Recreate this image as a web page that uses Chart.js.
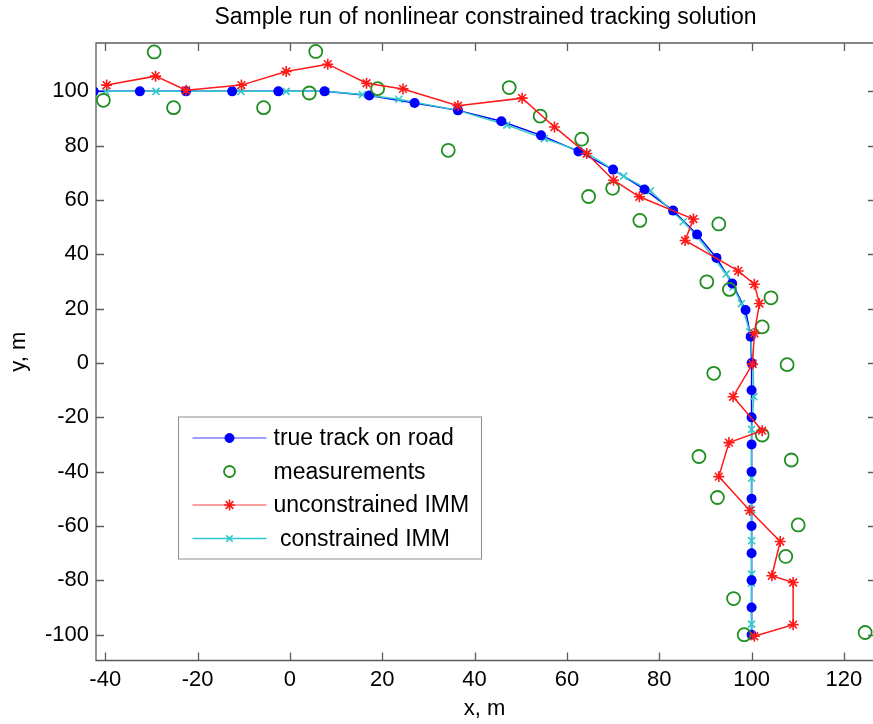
<!DOCTYPE html>
<html>
<head>
<meta charset="utf-8">
<title>Sample run of nonlinear constrained tracking solution</title>
<script src="https://cdn.jsdelivr.net/npm/chart.js@4.4.1/dist/chart.umd.min.js"></script>
<style>
  html, body { margin: 0; padding: 0; background: #fff; }
  canvas { display: block; }
</style>
</head>
<body>
<canvas id="myChart" width="873" height="724"></canvas>
<script>
// Data

const trueX = [-42.5, -32.5, -22.5, -12.5, -2.5, 7.5, 17.2, 27.0, 36.4, 45.8, 54.4, 62.5, 70.0, 76.8, 83.0, 88.2,
  92.4, 95.8, 98.7, 99.8, 100, 100, 100, 100, 100, 100, 100, 100, 100, 100, 100];
const trueY = [100, 100, 100, 100, 100, 100, 98.5, 95.7, 93.0, 89.0, 83.8, 77.9, 71.2, 63.9, 56.1, 47.3,
  38.7, 29.3, 19.5, 9.7, 0, -10, -20, -30, -40, -50, -60, -70, -80, -90, -100];

const measX = [-40.4, -29.4, -25.2, -5.7, 5.6, 4.2, 19.0, 47.5, 54.2, 34.3, 63.2, 69.9, 64.7, 75.8, 92.9,
  90.3, 95.2, 104.2, 102.3, 107.7, 91.8, 102.3, 88.6, 108.6, 92.6, 110.1, 107.4, 96.1, 98.4, 124.6];
const measY = [96.7, 114.5, 94.0, 94.0, 114.7, 99.4, 101.0, 101.4, 90.9, 78.3, 82.4, 64.3, 61.3, 52.5, 51.2,
  29.9, 27.1, 24.0, 13.3, -0.6, -3.8, -26.5, -34.4, -35.7, -49.5, -59.6, -71.2, -86.7, -100, -99.2];

const uncX = [-39.7, -29.1, -22.5, -10.5, -0.8, 8.2, 16.6, 24.5, 36.4, 50.3, 57.3, 64.3, 70.1, 75.7, 87.4, 85.6,
  97.1, 100.6, 101.7, 100.6, 100.2, 96.0, 102.3, 95.1, 92.9, 99.6, 106.2, 104.4, 109.0, 109.0, 100.6];
const uncY = [102.3, 105.6, 100.4, 102.3, 107.3, 110.0, 103.0, 100.9, 94.7, 97.5, 86.9, 77.1, 67.3, 61.2, 53.0, 45.1,
  33.9, 29.0, 21.9, 10.9, -0.4, -12.4, -24.9, -29.3, -41.8, -54.3, -65.7, -78.3, -80.8, -96.3, -100.6];

const conX = [-39.9, -29.0, -22.5, -10.6, -0.8, 7.8, 15.7, 23.6, 36.3, 47.0, 55.1, 64.5, 72.3, 78.1, 85.2, 88.0,
  94.5, 96.0, 97.8, 99.6, 100.3, 100.5, 100, 100, 100, 100, 100, 100, 100, 100, 100];
const conY = [100, 100, 100, 100, 100, 100, 98.8, 97.1, 93.0, 87.6, 82.6, 77.1, 68.8, 63.4, 52.0, 47.0,
  32.8, 28.0, 21.9, 11.5, 0, -12.4, -24.4, -30, -42.4, -54, -65.4, -77.7, -81, -96.1, -100.5];

const xTicks = [-40, -20, 0, 20, 40, 60, 80, 100, 120];
const yTicks = [-100, -80, -60, -40, -20, 0, 20, 40, 60, 80, 100];

const seriesNames = ['true track on road', 'measurements', 'unconstrained IMM', ' constrained IMM'];

const FONT = "'Liberation Sans', Arial, Helvetica, sans-serif";
const BLUE = '#0000ff';
const GREEN = '#1f8f1f';
const RED = '#ff1a1a';
const CYAN = '#33c9c9';

const toPoints = (xs, ys) => xs.map((x, i) => ({ x: x, y: ys[i] }));

// Title, box and inward ticks

const frame = {
  id: 'frame',
  beforeDatasetsDraw(chart) {
    const { ctx, chartArea: a, scales } = chart;
    ctx.save();
    ctx.strokeStyle = '#5c5c5c';
    ctx.lineWidth = 1.3;
    ctx.beginPath();
    ctx.moveTo(a.right + 5, a.top);
    ctx.lineTo(a.left, a.top);
    ctx.lineTo(a.left, a.bottom);
    ctx.lineTo(a.right + 5, a.bottom);
    xTicks.forEach(v => {
      const px = Math.round(scales.x.getPixelForValue(v)) + 0.5;
      ctx.moveTo(px, a.bottom);
      ctx.lineTo(px, a.bottom - 8);
      ctx.moveTo(px, a.top);
      ctx.lineTo(px, a.top + 8);
    });
    yTicks.forEach(v => {
      const py = Math.round(scales.y.getPixelForValue(v)) + 0.5;
      ctx.moveTo(a.left, py);
      ctx.lineTo(a.left + 8, py);
      ctx.moveTo(a.right, py);
      ctx.lineTo(a.right - 5, py);
    });
    ctx.stroke();
    ctx.restore();
  },
  afterDraw(chart) {
    const { ctx, chartArea: a } = chart;
    ctx.save();
    ctx.fillStyle = '#000';
    ctx.font = '23px ' + FONT;
    ctx.textAlign = 'center';
    ctx.textBaseline = 'alphabetic';
    ctx.fillText('Sample run of nonlinear constrained tracking solution', a.left + 389.5, 24);
    ctx.restore();
  }
};

// Legend box inside the axes

const legendStyles = [
  { line: '#7f7fff', point: { pointStyle: 'circle', radius: 4.5, borderWidth: 1 }, fill: BLUE, stroke: BLUE },
  { line: null, point: { pointStyle: 'circle', radius: 5.5, borderWidth: 1.8 }, fill: 'rgba(0,0,0,0)', stroke: GREEN },
  { line: '#ff8080', point: { pointStyle: 'star', radius: 5.5, borderWidth: 1.6 }, fill: RED, stroke: RED },
  { line: CYAN, point: { pointStyle: 'crossRot', radius: 4.5, borderWidth: 1.6 }, fill: CYAN, stroke: CYAN }
];

const legendBox = {
  id: 'legendBox',
  afterDraw(chart) {
    const { ctx, chartArea: a } = chart;
    const left = a.left + 82.5;
    const top = a.top + 374;
    ctx.save();
    ctx.fillStyle = '#fff';
    ctx.fillRect(left, top, 303, 142);
    ctx.strokeStyle = '#8c8c8c';
    ctx.lineWidth = 1;
    ctx.strokeRect(left, top, 303, 142);
    seriesNames.forEach((name, i) => {
      const st = legendStyles[i];
      const y = top + 21 + i * 33.5;
      if (st.line) {
        ctx.strokeStyle = st.line;
        ctx.lineWidth = 1.5;
        ctx.beginPath();
        ctx.moveTo(left + 14, y);
        ctx.lineTo(left + 88, y);
        ctx.stroke();
      }
      ctx.fillStyle = st.fill;
      ctx.strokeStyle = st.stroke;
      ctx.lineWidth = st.point.borderWidth;
      Chart.helpers.drawPoint(ctx, Object.assign({ rotation: 0 }, st.point), left + 51, y);
      ctx.fillStyle = '#000';
      ctx.font = '23px ' + FONT;
      ctx.textAlign = 'left';
      ctx.textBaseline = 'middle';
      ctx.fillText(name, left + 95, y + 1);
    });
    ctx.restore();
  }
};

// Chart

const ctx = document.getElementById('myChart').getContext('2d');
const myChart = new Chart(ctx, {
  type: 'scatter',
  data: {
    datasets: [{
      label: seriesNames[2],
      data: toPoints(uncX, uncY),
      showLine: true,
      borderColor: RED,
      borderWidth: 1.5,
      pointStyle: 'star',
      pointRadius: 5.5,
      pointBorderColor: RED,
      pointBorderWidth: 1.6,
    }, {
      label: seriesNames[1],
      data: toPoints(measX, measY),
      showLine: false,
      pointStyle: 'circle',
      pointRadius: 6.5,
      pointBorderColor: GREEN,
      pointBackgroundColor: 'rgba(0,0,0,0)',
      pointBorderWidth: 1.8,
    }, {
      label: seriesNames[0],
      data: toPoints(trueX, trueY),
      showLine: false,
      pointStyle: 'circle',
      pointRadius: 5,
      pointBorderWidth: 0,
      pointBackgroundColor: BLUE,
    }, {
      label: seriesNames[3],
      data: toPoints(conX, conY),
      showLine: true,
      borderColor: CYAN,
      borderWidth: 1.5,
      pointStyle: 'crossRot',
      pointRadius: 5,
      pointBorderColor: CYAN,
      pointBorderWidth: 1.6,
    }, {
      label: 'true track line',
      data: toPoints(trueX, trueY),
      showLine: true,
      borderColor: BLUE,
      borderWidth: 1.5,
      pointRadius: 0,
    }],
  },
  options: {
    responsive: false,
    animation: false,
    events: [],
    layout: { autoPadding: false, padding: { top: 43, left: 0, right: 0, bottom: 0 } },
    elements: { line: { tension: 0 } },
    scales: {
      x: {
        type: 'linear',
        min: -42,
        max: 126.3,
        grid: { display: false, drawTicks: false },
        border: { display: false },
        ticks: { color: '#000', font: { family: FONT, size: 22 }, padding: 6, maxRotation: 0, autoSkip: false },
        title: { display: true, text: 'x, m', color: '#000', font: { family: FONT, size: 22 }, padding: { top: 0, bottom: 2 } },
        afterBuildTicks: s => { s.ticks = xTicks.map(v => ({ value: v })); },
        afterFit: s => { s.height = 63.5; s.paddingLeft = 0; s.paddingRight = 0; }
      },
      y: {
        type: 'linear',
        min: -109.5,
        max: 117.8,
        grid: { display: false, drawTicks: false },
        border: { display: false },
        ticks: { color: '#000', font: { family: FONT, size: 22 }, padding: 7, autoSkip: false },
        title: { display: true, text: 'y, m', color: '#000', font: { family: FONT, size: 22 }, padding: { top: 6, bottom: 0 } },
        afterBuildTicks: s => { s.ticks = yTicks.map(v => ({ value: v })); },
        afterFit: s => { s.width = 96; s.paddingTop = 0; s.paddingBottom = 0; }
      }
    },
    plugins: {
      legend: { display: false },
      tooltip: { enabled: false }
    }
  },
  plugins: [frame, legendBox]
});
</script>
</body>
</html>
